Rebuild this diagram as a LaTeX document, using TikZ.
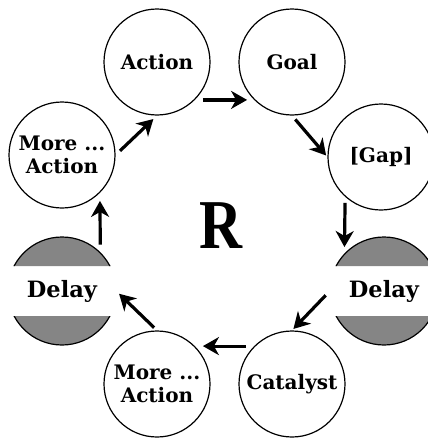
\documentclass[tikz,border=0pt]{standalone}
\usepackage{fontspec}
\setmainfont{DejaVu Serif}
\newfontfamily\rfont{Liberation Serif}
\usetikzlibrary{arrows.meta,calc}
\tikzset{
  bub/.style={circle,draw,line width=1.2pt,minimum size=106pt,inner sep=0pt,align=center,
     font=\bfseries\fontsize{20}{23}\selectfont},
  dly/.style={circle,minimum size=108pt,inner sep=0pt,font=\bfseries\fontsize{22.5}{24}\selectfont},
  arr/.style={line width=3.2pt,-{Stealth[length=16pt,width=18pt,inset=5pt]}},
  capfill/.style={fill=black!48,draw=black,line width=1.2pt}
}
\begin{document}
\begin{tikzpicture}[x=1pt,y=-1pt]
\useasboundingbox (0,0) rectangle (428,439);
\node[bub] (action) at (157,62) {Action};
\node[bub] (goal) at (292,62) {Goal};
\node[bub] (gap) at (381,157) {[Gap]};
\node[bub] (moreA) at (62,155) {More ...\\Action};
\node[bub] (moreB) at (157,384) {More ...\\Action};
\node[bub] (cat) at (292,384) {Catalyst};
\node[dly] (delayL) at (62,291) {Delay};
\node[dly] (delayR) at (384,291) {Delay};
\foreach \d in {delayL,delayR}{
  \begin{scope}
    \clip ($(\d)+(-60,-60)$) rectangle ($(\d)+(60,-25)$)
          ($(\d)+(-60,25)$) rectangle ($(\d)+(60,60)$);
    \draw[capfill] (\d) circle (54);
  \end{scope}
}
\node[font=\rfont\bfseries\fontsize{70}{70}\selectfont,xscale=0.85,inner sep=0pt] (r) at (221,226) {R};
\draw[arr,shorten <=8pt,shorten >=7pt] (action.-45) -- (goal.-135);
\draw[arr,shorten <=5pt,shorten >=2pt] (goal.south) -- (gap.west);
\draw[arr,shorten <=6pt,shorten >=7pt] (gap.-132) -- (delayR.137);
\draw[arr,shorten <=6pt,shorten >=2pt] (delayR.west) -- (cat.north);
\draw[arr,shorten <=8pt,shorten >=8pt] (cat.135) -- (moreB.45);
\draw[arr,shorten <=4pt,shorten >=4pt] (moreB.north) -- (delayL.east);
\draw[arr,shorten <=8pt,shorten >=8pt] (delayL.45) -- (moreA.-45);
\draw[arr,shorten <=6pt,shorten >=5pt] (moreA.east) -- (action.south);
\end{tikzpicture}
\end{document}
